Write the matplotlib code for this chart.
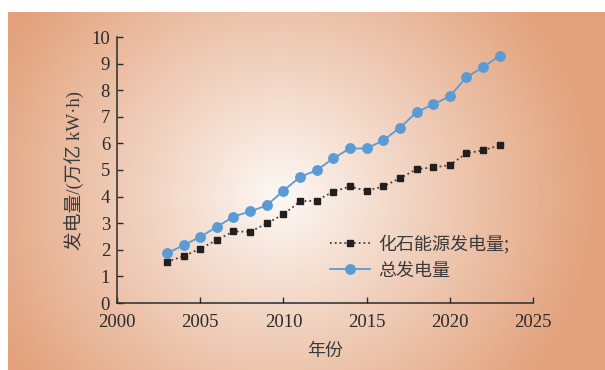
import numpy as np
import matplotlib.pyplot as plt

# data
years = [2003, 2004, 2005, 2006, 2007, 2008, 2009, 2010, 2011, 2012, 2013,
         2014, 2015, 2016, 2017, 2018, 2019, 2020, 2021, 2022, 2023]
total_gen = [1.87, 2.17, 2.49, 2.86, 3.25, 3.44, 3.67, 4.22, 4.74, 4.99, 5.44,
             5.81, 5.81, 6.11, 6.59, 7.17, 7.47, 7.77, 8.49, 8.86, 9.30]
fossil_gen = [1.55, 1.76, 2.04, 2.37, 2.69, 2.68, 2.99, 3.33, 3.82, 3.85, 4.19,
              4.38, 4.22, 4.38, 4.69, 5.03, 5.10, 5.18, 5.63, 5.74, 5.93]

x_ticks = [2000, 2005, 2010, 2015, 2020, 2025]
y_ticks = list(range(0, 11))

W, H = 605, 370
fig = plt.figure(figsize=(W / 100, H / 100), dpi=100)

# radial gradient background (white centre -> orange edges)
bg = fig.add_axes([8 / W, 0, (W - 8) / W, (H - 12) / H], zorder=0)
gx, gy = np.meshgrid(np.arange(8, W), np.arange(12, H))
r = np.sqrt((gx - 280) ** 2 + ((gy - 195) * 1.05) ** 2)
t = np.clip(r / 320, 0, 1) ** 0.95
centre = np.array([253, 249, 246]) / 255
edge = np.array([226, 161, 123]) / 255
img = centre[None, None, :] * (1 - t[..., None]) + edge[None, None, :] * t[..., None]
bg.imshow(img, aspect='auto', interpolation='bilinear')
bg.axis('off')

ax = fig.add_axes([117 / W, (H - 303) / H, 416 / W, 266 / H], zorder=1)
ax.set_facecolor('none')

ax.plot(years, fossil_gen, linestyle=':', color='#4a3f3b', linewidth=1.3,
        marker='s', markersize=4.2, markerfacecolor='#231f20',
        markeredgecolor='#231f20', label='化石能源发电量;')
ax.plot(years, total_gen, linestyle='-', color='#5b9bd5', linewidth=1.3,
        marker='o', markersize=6.8, markerfacecolor='#5b9bd5',
        markeredgecolor='#5b9bd5', label='总发电量')

ax.set_xlim(2000, 2025)
ax.set_ylim(0, 10)
ax.set_xticks(x_ticks)
ax.set_yticks(y_ticks)

serif = ['Liberation Serif', 'Noto Sans CJK SC']
cjk = ['Noto Sans CJK SC', 'DejaVu Sans']
for lab in ax.get_xticklabels() + ax.get_yticklabels():
    lab.set_family('Liberation Serif')
    lab.set_fontsize(13.5)
    lab.set_color('#2b2b2b')

ax.tick_params(direction='in', length=4, width=1, colors='#2b2b2b')
ax.tick_params(axis='x', pad=8)
ax.tick_params(axis='y', pad=5)
for side in ['top', 'right']:
    ax.spines[side].set_visible(False)
for side in ['left', 'bottom']:
    ax.spines[side].set_color('#2b2b2b')
    ax.spines[side].set_linewidth(1.1)

ax.set_xlabel('年份', family=cjk, fontsize=13, color='#3a3a3a', labelpad=8)
ax.set_ylabel('发电量/(万亿 kW·h)', family=serif, fontsize=13.5, color='#3a3a3a', labelpad=5)

leg = ax.legend(loc='upper left', bbox_to_anchor=(330 / W, 1 - 235 / H),
                bbox_transform=fig.transFigure, frameon=False, borderpad=0,
                borderaxespad=0, handlelength=2.2, handletextpad=0.45,
                labelspacing=0.45, prop={'family': cjk, 'size': 13})
for txt in leg.get_texts():
    txt.set_color('#3a3a3a')

fig.savefig('out.png', dpi=100)
